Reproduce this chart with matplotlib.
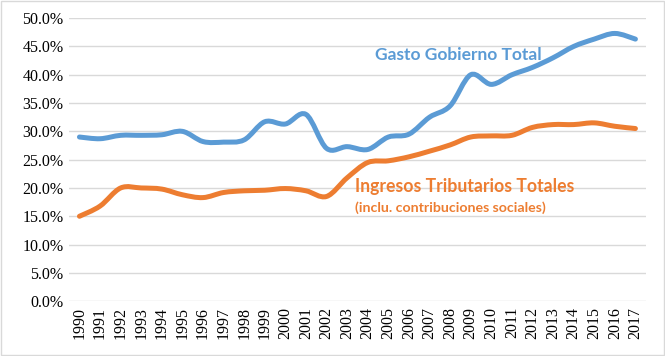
"""Gasto gobierno total vs ingresos tributarios totales, 1990-2017."""

import numpy as np
import matplotlib
matplotlib.use("Agg")
import matplotlib.pyplot as plt
from matplotlib.path import Path
from matplotlib.patches import PathPatch, Rectangle
from matplotlib.ticker import PercentFormatter

years = [str(y) for y in range(1990, 2018)]

gasto = [29.0, 28.7, 29.3, 29.3, 29.4, 30.0, 28.2, 28.1, 28.5, 31.7,
         31.3, 33.0, 27.0, 27.3, 26.8, 29.0, 29.5, 32.5, 34.5, 40.0,
         38.3, 40.0, 41.3, 43.0, 45.0, 46.3, 47.3, 46.3]

ingresos = [15.0, 16.8, 20.0, 20.0, 19.8, 18.8, 18.3, 19.2, 19.5, 19.6,
            19.9, 19.5, 18.5, 21.8, 24.5, 24.8, 25.5, 26.5, 27.6, 29.0,
            29.2, 29.3, 30.7, 31.2, 31.2, 31.5, 30.9, 30.5]

BLUE = "#5B9BD5"
ORANGE = "#ED7D31"


def smooth_path(x, y, tension=1 / 6):
    """Excel-like smoothed line as a chain of cubic bezier segments."""
    pts = np.column_stack([x, y])
    verts = [pts[0]]
    codes = [Path.MOVETO]
    n = len(pts)
    for i in range(n - 1):
        p0 = pts[max(i - 1, 0)]
        p1 = pts[i]
        p2 = pts[i + 1]
        p3 = pts[min(i + 2, n - 1)]
        c1 = p1 + (p2 - p0) * tension
        c2 = p2 - (p3 - p1) * tension
        verts += [c1, c2, p2]
        codes += [Path.CURVE4] * 3
    return Path(verts, codes)


def main():
    plt.rcParams["font.family"] = ["Liberation Serif"]

    fig = plt.figure(figsize=(6.65, 3.56), dpi=100)
    ax = fig.add_axes([0.104, 0.154, 0.867, 0.795])

    x = np.arange(len(years))
    for vals, color in [(gasto, BLUE), (ingresos, ORANGE)]:
        y = np.array(vals) / 100
        ax.add_patch(PathPatch(smooth_path(x, y), facecolor="none",
                               edgecolor=color, lw=3.6, capstyle="round",
                               joinstyle="round", zorder=3))

    ax.set_xlim(-0.5, len(years) - 0.5)
    ax.set_ylim(0, 0.5)
    ax.set_yticks(np.arange(0, 0.51, 0.05))
    ax.yaxis.set_major_formatter(PercentFormatter(1.0, decimals=1))
    ax.set_xticks(x)
    ax.set_xticklabels(years, rotation=90)

    ax.tick_params(length=0, pad=4, labelsize=11.5)
    ax.grid(axis="y", color="#D9D9D9", lw=1)
    ax.set_axisbelow(True)
    for s in ax.spines.values():
        s.set_visible(False)

    ax.text(14.35, 0.435, "Gasto Gobierno Total", color=BLUE,
            fontsize=12.5, fontweight="bold", family="Lato",
            ha="left", va="center")
    ax.text(13.38, 0.203, "Ingresos Tributarios Totales", color=ORANGE,
            fontsize=12.7, fontweight="bold", family="Lato",
            ha="left", va="center")
    ax.text(13.38, 0.166, "(inclu. contribuciones sociales)", color=ORANGE,
            fontsize=10.2, fontweight="bold", family="Lato",
            ha="left", va="center")

    # light frame around the whole chart
    fig.patches.append(Rectangle((0.002, 0.003), 0.996, 0.994,
                                 transform=fig.transFigure, fill=False,
                                 edgecolor="#D9D9D9", lw=1))

    fig.savefig("out.png", dpi=100)


if __name__ == "__main__":
    main()
